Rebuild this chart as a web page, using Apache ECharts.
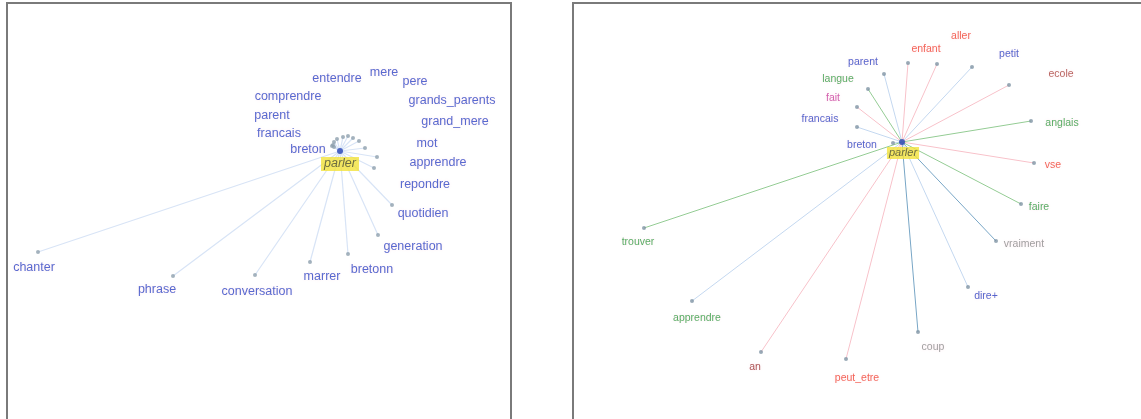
<!DOCTYPE html>
<html>
<head>
<meta charset="utf-8">
<script src="https://cdn.jsdelivr.net/npm/echarts@6/dist/echarts.min.js"></script>
<style>
  html, body { margin: 0; padding: 0; background: #fff; }
  #chart { width: 1141px; height: 419px; }
</style>
</head>
<body>
<div id="chart"></div>
<script>
// left graph: parler and its neighbours (coordinates)
const leftCenter = [340, 151];
const leftWords = ['chanter', 'phrase', 'conversation', 'marrer', 'bretonn', 'generation', 'quotidien',
  'repondre', 'apprendre', 'mot', 'grand_mere', 'grands_parents', 'pere', 'mere', 'entendre',
  'comprendre', 'parent', 'francais', 'breton'];
const leftNodeX = [38, 173, 255, 310, 348, 378, 392, 374, 377, 365, 359, 353, 348, 343, 337, 334, 333, 332, 334];
const leftNodeY = [252, 276, 275, 262, 254, 235, 205, 168, 157, 148, 141, 138, 136, 137, 139, 142, 145, 146, 147];
const leftLabelX = [34, 157, 257, 322, 372, 413, 423, 425, 438, 427, 455, 452, 415, 384, 337, 288, 272, 279, 308];
const leftLabelY = [268, 290, 292, 277, 270, 247, 214, 185, 163, 144, 122, 101, 82, 73, 79, 97, 116, 134, 150];

// right graph
const rightCenter = [902, 142];
const rightWords = ['parent', 'langue', 'fait', 'francais', 'breton', 'enfant', 'aller', 'petit', 'ecole',
  'anglais', 'vse', 'faire', 'vraiment', 'dire+', 'coup', 'peut_etre', 'an', 'apprendre', 'trouver'];
const rightNodeX = [884, 868, 857, 857, 893, 908, 937, 972, 1009, 1031, 1034, 1021, 996, 968, 918, 846, 761, 692, 644];
const rightNodeY = [74, 89, 107, 127, 143, 63, 64, 67, 85, 121, 163, 204, 241, 287, 332, 359, 352, 301, 228];
const rightLabelX = [863, 838, 833, 820, 862, 926, 961, 1009, 1061, 1062, 1053, 1039, 1024, 986, 933, 857, 755, 697, 638];
const rightLabelY = [62, 79, 98, 119, 145, 49, 36, 54, 74, 123, 165, 207, 244, 296, 347, 378, 367, 318, 242];
// word class (text colour) and link class (edge colour)
const rightWordClass = ['blue', 'green', 'magenta', 'blue', 'blue', 'red', 'red', 'blue', 'brown',
  'green', 'red', 'green', 'gray', 'blue', 'gray', 'red', 'darkred', 'green', 'green'];
const rightLinkClass = ['blue', 'green', 'pink', 'blue', 'blue', 'pink', 'pink', 'blue', 'pink',
  'green', 'pink', 'green', 'teal', 'blue', 'teal', 'pink', 'pink', 'blue', 'green'];

const textColors = {
  blue: '#2c40c0', green: '#2f9a3e', magenta: '#c83c9c', red: '#f0402f',
  brown: '#a8403a', darkred: '#962828', gray: '#8a8a8a'
};
const linkColors = { blue: '#c4d8f0', green: '#94cc94', pink: '#f8c2ca', teal: '#78a6c6' };

const chart = echarts.init(document.getElementById('chart'));

function edges(center, xs, ys, colorOf) {
  return xs.map((x, i) => ({
    coords: [center, [x, ys[i]]],
    lineStyle: { color: colorOf(i) }
  }));
}
function labels(words, xs, ys, colorOf, size) {
  return words.map((w, i) => ({
    value: [xs[i], ys[i]],
    name: w,
    label: { color: colorOf(i), fontSize: size }
  }));
}
const halo = { textShadowColor: 'rgba(245,140,175,0.25)', textShadowBlur: 3 };

const axisX = (idx, min, max) => ({ type: 'value', gridIndex: idx, min, max, show: false });
const axisY = (idx) => ({ type: 'value', gridIndex: idx, min: 3, max: 439, inverse: true, show: false });

chart.setOption({
  animation: false,
  grid: [
    { left: 7, top: 3, width: 504, height: 436, outerBoundsMode: 'none', containLabel: false,
      show: true, borderColor: '#7a7a7a', borderWidth: 2 },
    { left: 573, top: 3, width: 588, height: 436, outerBoundsMode: 'none', containLabel: false,
      show: true, borderColor: '#7a7a7a', borderWidth: 2 }
  ],
  xAxis: [axisX(0, 7, 511), axisX(1, 573, 1161)],
  yAxis: [axisY(0), axisY(1)],
  series: [
    {
      type: 'lines', coordinateSystem: 'cartesian2d', xAxisIndex: 0, yAxisIndex: 0,
      lineStyle: { width: 1.2, opacity: 1 }, z: 1,
      data: edges(leftCenter, leftNodeX, leftNodeY, () => '#d8e4f6')
    },
    {
      type: 'lines', coordinateSystem: 'cartesian2d', xAxisIndex: 1, yAxisIndex: 1,
      lineStyle: { width: 1, opacity: 1 }, z: 1,
      data: edges(rightCenter, rightNodeX, rightNodeY, i => linkColors[rightLinkClass[i]])
    },
    {
      type: 'scatter', xAxisIndex: 0, yAxisIndex: 0, symbolSize: 4, z: 2,
      itemStyle: { color: '#8fa0ae' },
      data: leftNodeX.map((x, i) => [x, leftNodeY[i]])
    },
    {
      type: 'scatter', xAxisIndex: 1, yAxisIndex: 1, symbolSize: 4, z: 2,
      itemStyle: { color: '#7f93a4' },
      data: rightNodeX.map((x, i) => [x, rightNodeY[i]])
    },
    {
      type: 'scatter', xAxisIndex: 0, yAxisIndex: 0, symbolSize: 6, z: 3,
      itemStyle: { color: '#2442b4' }, data: [leftCenter]
    },
    {
      type: 'scatter', xAxisIndex: 1, yAxisIndex: 1, symbolSize: 6, z: 3,
      itemStyle: { color: '#2442b4' }, data: [rightCenter]
    },
    {
      type: 'scatter', xAxisIndex: 0, yAxisIndex: 0, symbolSize: 0, z: 4,
      label: { show: true, position: 'inside', formatter: '{b}', fontFamily: 'Liberation Sans, Arial', ...halo },
      data: labels(leftWords, leftLabelX, leftLabelY, () => '#3046c4', 12.5)
    },
    {
      type: 'scatter', xAxisIndex: 1, yAxisIndex: 1, symbolSize: 0, z: 4,
      label: { show: true, position: 'inside', formatter: '{b}', fontFamily: 'Liberation Sans, Arial', ...halo },
      data: labels(rightWords, rightLabelX, rightLabelY, i => textColors[rightWordClass[i]], 10.5)
    },
    {
      type: 'scatter', xAxisIndex: 0, yAxisIndex: 0, symbolSize: 0, z: 5,
      label: {
        show: true, position: 'inside', formatter: '{b}', fontFamily: 'Liberation Sans, Arial',
        fontStyle: 'italic', fontSize: 12.5, color: '#4a4e3a', backgroundColor: '#f2e23a',
        padding: [1, 3, 0, 3]
      },
      data: [{ name: 'parler', value: [340, 164] }]
    },
    {
      type: 'scatter', xAxisIndex: 1, yAxisIndex: 1, symbolSize: 0, z: 5,
      label: {
        show: true, position: 'inside', formatter: '{b}', fontFamily: 'Liberation Sans, Arial',
        fontStyle: 'italic', fontSize: 11, color: '#4a4e3a', backgroundColor: '#f2e23a',
        padding: [1, 2, 0, 2]
      },
      data: [{ name: 'parler', value: [903, 153] }]
    }
  ]
});
</script>
</body>
</html>
